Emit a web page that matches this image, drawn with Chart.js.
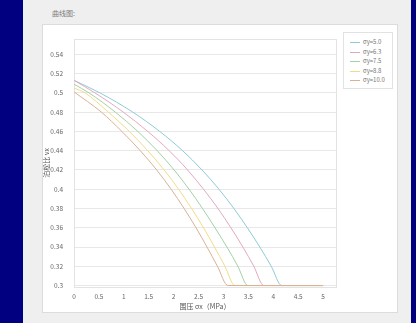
<!DOCTYPE html>
<html>
<head>
<meta charset="utf-8">
<script src="https://cdn.jsdelivr.net/npm/chart.js@4"></script>
<style>
  body { margin: 0; background: #000080; width: 416px; height: 323px; overflow: hidden; position: relative;
         font-family: "Noto Sans CJK SC", "DejaVu Sans", sans-serif; }
  #panel { position: absolute; left: 23px; top: 0; width: 388px; height: 323px; background: #efefef; }
  #title { position: absolute; left: 52px; top: 8px; font-size: 7px; color: #7a7a7a; }
  #box { position: absolute; left: 42px; top: 24px; width: 356px; height: 289px; background: #fff;
         border: 1px solid #dcdcdc; box-sizing: border-box; }
  #wrap { position: absolute; left: 42px; top: 24px; width: 300px; height: 289px; }
  #legend { position: absolute; left: 343px; top: 32px; width: 50px; height: 57px; border: 1px solid #e2e2e2;
            box-sizing: border-box; background: #fff; }
  .item { position: absolute; left: 6px; height: 8px; font-size: 6px; color: #777; line-height: 8px; white-space: nowrap; }
  .item span.ln { position: absolute; left: 0; top: 4px; width: 10px; height: 1px; }
  .item span.tx { position: absolute; left: 13px; top: 0; }
</style>
</head>
<body>
<div id="panel"></div>
<div id="title">曲线图:</div>
<div id="box"></div>
<div id="wrap"><canvas id="myChart"></canvas></div>
<div id="legend"></div>
<script>
// σy 系列
const seriesNames = ["σy=5.0", "σy=6.3", "σy=7.5", "σy=8.8", "σy=10.0"];
const seriesColors = ["#8fcad8", "#e3a9bf", "#a3d0a6", "#f1dc86", "#d9b196"];

// 每条曲线的 x (围压) 和 y (泊松比)
const x50 = [0, 0.52, 1.18, 1.72, 2.18, 2.57, 2.91, 3.21, 3.48, 3.73, 3.96, 4.17, 5];
const y50 = [0.513, 0.50, 0.48, 0.46, 0.44, 0.42, 0.40, 0.38, 0.36, 0.34, 0.32, 0.30, 0.30];
const x63 = [0, 0.42, 0.99, 1.48, 1.91, 2.28, 2.60, 2.89, 3.15, 3.39, 3.61, 3.81, 5];
const y63 = [0.513, 0.50, 0.48, 0.46, 0.44, 0.42, 0.40, 0.38, 0.36, 0.34, 0.32, 0.30, 0.30];
const x75 = [0, 0.30, 0.83, 1.28, 1.67, 2.01, 2.31, 2.58, 2.83, 3.07, 3.29, 3.49, 5];
const y75 = [0.509, 0.50, 0.48, 0.46, 0.44, 0.42, 0.40, 0.38, 0.36, 0.34, 0.32, 0.30, 0.30];
const x88 = [0, 0.22, 0.69, 1.11, 1.48, 1.81, 2.10, 2.36, 2.60, 2.82, 3.03, 3.23, 5];
const y88 = [0.505, 0.50, 0.48, 0.46, 0.44, 0.42, 0.40, 0.38, 0.36, 0.34, 0.32, 0.30, 0.30];
const x100 = [0, 0.55, 0.96, 1.33, 1.66, 1.95, 2.21, 2.45, 2.67, 2.88, 3.09, 5];
const y100 = [0.501, 0.48, 0.46, 0.44, 0.42, 0.40, 0.38, 0.36, 0.34, 0.32, 0.30, 0.30];

// 刻度
const xTicks = [0, 0.5, 1, 1.5, 2, 2.5, 3, 3.5, 4, 4.5, 5];
const yTicks = [0.3, 0.32, 0.34, 0.36, 0.38, 0.4, 0.42, 0.44, 0.46, 0.48, 0.5, 0.52, 0.54];

const xs = [x50, x63, x75, x88, x100];
const ys = [y50, y63, y75, y88, y100];

const datasets = seriesNames.map(function(name, i) {
  return {
    label: name,
    data: xs[i].map(function(x, j) { return { x: x, y: ys[i][j] }; }),
    borderColor: seriesColors[i],
    borderWidth: 1,
    pointRadius: 0,
    cubicInterpolationMode: "monotone",
    fill: false,
    order: seriesNames.length - 1 - i
  };
});

// 图例
const legend = document.getElementById("legend");
seriesNames.forEach(function(name, i) {
  const item = document.createElement("div");
  item.className = "item";
  item.style.top = (5 + i * 9.6) + "px";
  item.innerHTML = '<span class="ln" style="background:' + seriesColors[i] + '"></span><span class="tx">' + name + '</span>';
  legend.appendChild(item);
});

const frame = {
  id: "frame",
  beforeDatasetsDraw: function(chart) {
    const a = chart.chartArea, c = chart.ctx;
    c.save();
    c.strokeStyle = "#e3e3e3";
    c.lineWidth = 1;
    c.strokeRect(Math.round(a.left) + 0.5, Math.round(a.top) + 0.5, Math.round(a.right - a.left), Math.round(a.bottom - a.top));
    c.restore();
  }
};

const tickFont = { family: "Noto Sans CJK SC", size: 6.5 };

var ctx = document.getElementById("myChart").getContext("2d");
var myChart = new Chart(ctx, {
  type: "line",
  data: { datasets: datasets },
  plugins: [frame],
  options: {
    responsive: true,
    maintainAspectRatio: false,
    animation: false,
    layout: { padding: { top: 7, right: 6, left: 0, bottom: 2 } },
    plugins: { legend: { display: false }, tooltip: { enabled: false } },
    scales: {
      x: {
        type: "linear",
        min: 0,
        max: 5.26,
        afterBuildTicks: function(s) { s.ticks = xTicks.map(function(v) { return { value: v }; }); },
        afterFit: function(s) { s.height = 24; },
        grid: { display: false, drawTicks: false },
        border: { display: false },
        ticks: { font: tickFont, color: "#666", padding: 6, maxRotation: 0, autoSkip: false,
                 callback: function(v) { return String(parseFloat(v.toFixed(2))); } },
        title: { display: true, text: "围压 σx（MPa）", font: { family: "Noto Sans CJK SC", size: 7 }, color: "#555",
                 padding: { top: 0, bottom: 0 } }
      },
      y: {
        min: 0.2985,
        max: 0.556,
        afterBuildTicks: function(s) { s.ticks = yTicks.map(function(v) { return { value: v }; }); },
        afterFit: function(s) { s.width = 32; },
        grid: { color: "#e8e8e8", drawTicks: false },
        border: { display: false },
        ticks: { font: tickFont, color: "#666", padding: 11, autoSkip: false,
                 callback: function(v) { return String(parseFloat(v.toFixed(2))); } },
        title: { display: true, text: "泊松比 νx", font: { family: "Noto Sans CJK SC", size: 7 }, color: "#555",
                 padding: { top: 0, bottom: 0 } }
      }
    }
  }
});
</script>
</body>
</html>
